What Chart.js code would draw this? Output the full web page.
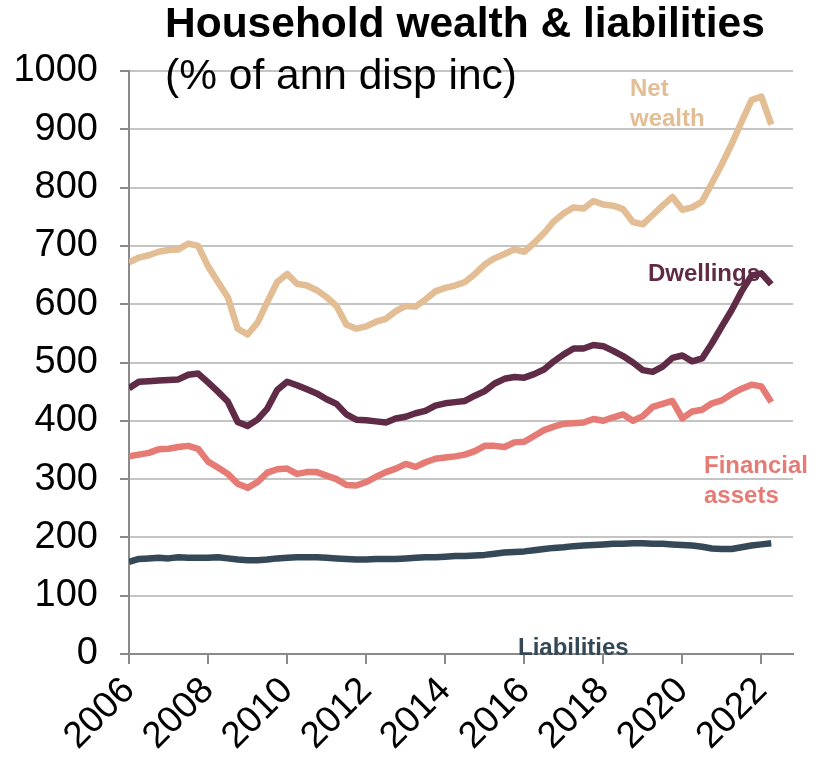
<!DOCTYPE html>
<html>
<head>
<meta charset="utf-8">
<title>Household wealth &amp; liabilities</title>
<script src="https://cdn.jsdelivr.net/npm/chart.js@4.4.0/dist/chart.umd.min.js"></script>
<style>
  html, body { margin: 0; padding: 0; background: #fff; }
  canvas { display: block; }
</style>
</head>
<body>
<canvas id="wealthChart" width="826" height="760"></canvas>
<script>
// Quarterly series, % of annualised disposable income, starting 2006 Q1
const startYear = 2006;
const quarterStep = 0.25;

const xTickYears = [2006, 2008, 2010, 2012, 2014, 2016, 2018, 2020, 2022];
const yTickValues = [0, 100, 200, 300, 400, 500, 600, 700, 800, 900, 1000];

const netWealth = [
  672, 680, 684, 690, 693, 694, 704, 700, 665, 638,
  612, 558, 548, 568, 604, 638, 652, 635, 632, 624,
  612, 597, 565, 558, 562, 570, 575, 588, 597, 596,
  608, 622, 628, 632, 638, 652, 668, 679, 686, 694,
  690, 705, 722, 742, 756, 766, 764, 777, 771, 769,
  763, 741, 737, 753, 769, 784, 762, 766, 776, 808,
  840, 875, 913, 950, 956, 908
];

const dwellings = [
  456, 467, 468, 469, 470, 471, 479, 481, 466, 450,
  433, 398, 391, 402, 421, 453, 467, 461, 454, 447,
  437, 429, 411, 402, 401, 399, 397, 404, 407, 413,
  417, 426, 430, 432, 434, 443, 451, 464, 472, 475,
  474, 480, 488, 502, 514, 524, 524, 530, 528, 520,
  511, 500, 487, 484, 493, 508, 512, 502, 507, 533,
  562, 590, 622, 649, 653, 634
];

const financialAssets = [
  339, 342, 345, 351, 352, 355, 357, 352, 330, 320,
  309, 292, 285, 295, 311, 317, 318, 309, 312, 312,
  306, 300, 290, 289, 295, 304, 312, 318, 326, 321,
  329, 335, 337, 339, 342, 348, 357, 357, 355, 363,
  364, 374, 384, 390, 395, 396, 397, 403, 400, 406,
  411, 400, 408, 424, 429, 434, 404, 416, 419, 430,
  435, 446, 455, 462, 459, 432
];

const liabilities = [
  158, 163, 164, 165, 164, 166, 165, 165, 165, 166,
  164, 162, 161, 161, 162, 164, 165, 166, 166, 166,
  165, 164, 163, 162, 162, 163, 163, 163, 164, 165,
  166, 166, 167, 168, 168, 169, 170, 172, 174, 175,
  176, 178, 180, 182, 183, 185, 186, 187, 188, 189,
  189, 190, 190, 189, 189, 188, 187, 186, 184, 181,
  180, 180, 183, 186, 188, 190
];

const titleText = 'Household wealth & liabilities';
const subtitleText = '(% of ann disp inc)';

const FONT = '"Liberation Sans", Arial, Helvetica, sans-serif';
const colors = {
  netWealth: '#E3BD93',
  dwellings: '#5F2B46',
  financial: '#E57B74',
  liabilities: '#344857',
  grid: '#c4c4c4',
  axis: '#8a8a8a'
};

function toPoints(values) {
  return values.map((v, i) => ({ x: startYear + i * quarterStep, y: v }));
}

// In-chart series names, drawn under the lines
const seriesNotes = [
  { lines: ['Net', 'wealth'], color: colors.netWealth, x: 630, y: 89 },
  { lines: ['Dwellings'], color: colors.dwellings, x: 648, y: 274 },
  { lines: ['Financial', 'assets'], color: colors.financial, x: 704, y: 466 },
  { lines: ['Liabilities'], color: colors.liabilities, x: 518, y: 648 }
];

const chartText = {
  id: 'chartText',
  beforeDatasetsDraw(chart) {
    const ctx = chart.ctx;
    ctx.save();
    ctx.textAlign = 'left';
    ctx.textBaseline = 'middle';
    ctx.font = `bold 24px ${FONT}`;
    seriesNotes.forEach(note => {
      ctx.fillStyle = note.color;
      note.lines.forEach((line, k) => ctx.fillText(line, note.x, note.y + k * 30));
    });
    ctx.fillStyle = '#000';
    ctx.font = `42.5px ${FONT}`;
    ctx.fillText(subtitleText, 165, 77);
    ctx.font = `bold 42.5px ${FONT}`;
    ctx.fillText(titleText, 165, 25);
    ctx.restore();
  }
};

const ctx = document.getElementById('wealthChart').getContext('2d');

new Chart(ctx, {
  type: 'line',
  data: {
    datasets: [
      { label: 'Liabilities', data: toPoints(liabilities), borderColor: colors.liabilities },
      { label: 'Financial assets', data: toPoints(financialAssets), borderColor: colors.financial },
      { label: 'Dwellings', data: toPoints(dwellings), borderColor: colors.dwellings },
      { label: 'Net wealth', data: toPoints(netWealth), borderColor: colors.netWealth }
    ]
  },
  options: {
    responsive: false,
    animation: false,
    devicePixelRatio: 1,
    layout: { padding: { top: 71, right: 33, left: 0, bottom: 0 } },
    plugins: {
      legend: { display: false },
      tooltip: { enabled: false }
    },
    elements: {
      point: { radius: 0 },
      line: { borderWidth: 6.5, tension: 0, borderJoinStyle: 'round', fill: false }
    },
    scales: {
      x: {
        type: 'linear',
        min: 2006,
        max: 2022.8,
        afterBuildTicks: axis => { axis.ticks = xTickYears.map(v => ({ value: v })); },
        afterFit: axis => { axis.height = 106; },
        grid: { drawOnChartArea: false, tickLength: 10, color: colors.axis, lineWidth: 2 },
        border: { color: colors.axis, width: 2 },
        ticks: {
          autoSkip: false,
          minRotation: 45,
          maxRotation: 45,
          padding: 5,
          color: '#000',
          font: { family: FONT, size: 37 },
          callback: v => String(v)
        }
      },
      y: {
        min: 0,
        max: 1000,
        afterBuildTicks: axis => { axis.ticks = yTickValues.map(v => ({ value: v })); },
        afterFit: axis => { axis.width = 129; },
        grid: { color: colors.grid, lineWidth: 2, tickLength: 9, tickColor: colors.axis },
        border: { color: colors.axis, width: 2 },
        ticks: {
          padding: 22,
          color: '#000',
          font: { family: FONT, size: 38 },
          callback: v => String(v)
        }
      }
    }
  },
  plugins: [chartText]
});
</script>
</body>
</html>
